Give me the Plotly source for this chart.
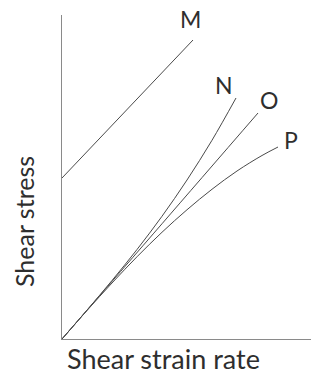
import plotly.graph_objects as go

# Data (arbitrary units)
m_x = [0.0, 5.24]
m_y = [6.44, 11.96]

n_x = [0, 1, 2, 3, 4, 5, 6, 6.96]
n_y = [0, 1.155, 2.34, 3.58, 4.91, 6.36, 7.95, 9.64]

o_x = [0, 4.0, 7.84]
o_y = [0, 4.61, 9.04]

p_x = [0, 1, 2, 3, 4, 5, 6, 7, 8, 8.64]
p_y = [0, 1.14, 2.24, 3.29, 4.27, 5.17, 5.99, 6.72, 7.34, 7.68]

labels = ["M", "N", "O", "P"]
x_title = "Shear strain rate"
y_title = "Shear stress"

series = [(m_x, m_y), (n_x, n_y), (o_x, o_y), (p_x, p_y)]
label_shift = [(-3, 21), (-12, 13), (11, 13), (13, 7)]

line_color = "#4a4a4a"
text_color = "#2e2e2e"
font_family = "Lato, 'Open Sans', sans-serif"

fig = go.Figure()
for (xs, ys) in series:
    fig.add_trace(go.Scatter(
        x=xs, y=ys, mode="lines",
        line=dict(color=line_color, width=1, shape="spline"),
        hoverinfo="skip", showlegend=False, cliponaxis=False,
    ))

for lab, (xs, ys), (dx, dy) in zip(labels, series, label_shift):
    fig.add_annotation(
        x=xs[-1], y=ys[-1], xref="x", yref="y", text=lab,
        showarrow=False, xshift=dx, yshift=dy,
        font=dict(size=23, color=text_color, family=font_family),
    )

# axis titles as annotations (placed off-centre as in the original)
fig.add_annotation(
    text=x_title, xref="paper", yref="paper", x=0.406, y=-0.0617,
    xanchor="center", yanchor="middle", showarrow=False,
    font=dict(size=27, color=text_color, family=font_family),
)
fig.add_annotation(
    text=y_title, xref="paper", yref="paper", x=-0.1526, y=0.361,
    xanchor="center", yanchor="middle", showarrow=False, textangle=-90,
    font=dict(size=25, color=text_color, family=font_family),
)

fig.update_layout(
    width=311, height=376,
    margin=dict(l=62, r=0, t=15, b=37),
    paper_bgcolor="white", plot_bgcolor="white",
    showlegend=False,
    font=dict(family=font_family, color=text_color),
)
fig.update_xaxes(
    range=[0, 9.96], showgrid=False, zeroline=False, showticklabels=False,
    ticks="", showline=True, linecolor="#8a8a8a", linewidth=1,
)
fig.update_yaxes(
    range=[0, 12.96], showgrid=False, zeroline=False, showticklabels=False,
    ticks="", showline=True, linecolor="#8a8a8a", linewidth=1,
)

fig.write_html(
    "out.html",
    config={"displayModeBar": False},
    post_script="document.body.style.margin='0';document.body.style.padding='0';",
)
